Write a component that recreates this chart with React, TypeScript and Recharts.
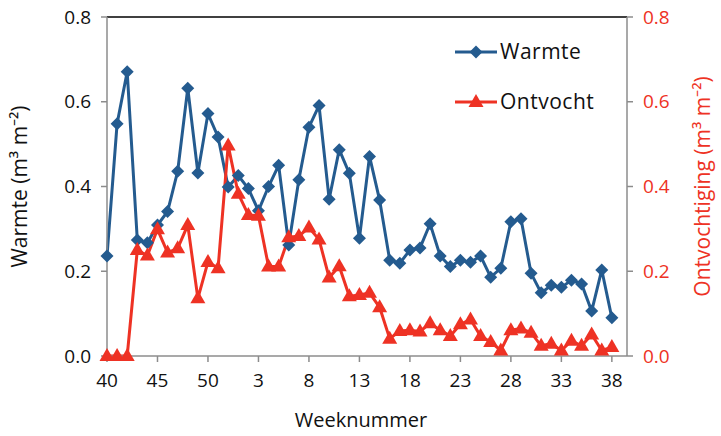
// App.tsx

import React from 'react';
import { LineChart, Line, XAxis, YAxis, ReferenceLine } from 'recharts';

const weeks = [
  40, 41, 42, 43, 44, 45, 46, 47, 48, 49, 50, 51, 52,
  1, 2, 3, 4, 5, 6, 7, 8, 9, 10, 11, 12, 13, 14, 15, 16, 17, 18, 19, 20,
  21, 22, 23, 24, 25, 26, 27, 28, 29, 30, 31, 32, 33, 34, 35, 36, 37, 38,
];

const warmte = [
  0.236, 0.548, 0.671, 0.274, 0.267, 0.309, 0.341, 0.436, 0.632, 0.432, 0.572, 0.517, 0.399,
  0.426, 0.395, 0.343, 0.400, 0.450, 0.262, 0.416, 0.540, 0.591, 0.370, 0.487, 0.431, 0.278,
  0.471, 0.368, 0.226, 0.219, 0.250, 0.255, 0.312, 0.236, 0.211, 0.226, 0.221, 0.236, 0.186,
  0.207, 0.317, 0.324, 0.195, 0.149, 0.167, 0.162, 0.179, 0.170, 0.106, 0.203, 0.090,
];

const ontvocht = [
  0.0, 0.0, 0.0, 0.250, 0.237, 0.299, 0.244, 0.254, 0.309, 0.136, 0.222, 0.207, 0.497,
  0.383, 0.333, 0.331, 0.211, 0.211, 0.280, 0.283, 0.303, 0.275, 0.185, 0.212, 0.141, 0.144,
  0.149, 0.115, 0.041, 0.059, 0.061, 0.058, 0.077, 0.061, 0.047, 0.075, 0.086, 0.047, 0.033,
  0.013, 0.061, 0.065, 0.055, 0.024, 0.029, 0.013, 0.036, 0.024, 0.051, 0.013, 0.021,
];

const xTicks = [0, 5, 10, 15, 20, 25, 30, 35, 40, 45, 50];
const yTicks = [0, 0.2, 0.4, 0.6, 0.8];

const BLUE = '#245b8f';
const RED = '#ee3224';
const FONT = '"Open Sans", sans-serif';

const data = weeks.map((w, i) => ({ i, week: w, warmte: warmte[i], ontvocht: ontvocht[i] }));

const Diamond = ({ cx, cy }: any) => {
  if (cx == null || cy == null) return null;
  const r = 6.5;
  return <path d={`M${cx},${cy - r}L${cx + r},${cy}L${cx},${cy + r}L${cx - r},${cy}Z`} fill={BLUE} />;
};

const Triangle = ({ cx, cy }: any) => {
  if (cx == null || cy == null) return null;
  return <path d={`M${cx},${cy - 8}L${cx + 7.5},${cy + 5}L${cx - 7.5},${cy + 5}Z`} fill={RED} />;
};

const LegendBox = () => (
  <svg width={170} height={80} style={{ position: 'absolute', left: 453, top: 37 }}>
    <line x1={2} y1={15} x2={44} y2={15} stroke={BLUE} strokeWidth={3} />
    <Diamond cx={23} cy={15} />
    <text x={47} y={22} fontSize={21} fontFamily={FONT} fill="#111" letterSpacing={0.5}>Warmte</text>
    <line x1={2} y1={65} x2={44} y2={65} stroke={RED} strokeWidth={3} />
    <Triangle cx={23} cy={65} />
    <text x={47} y={72} fontSize={21} fontFamily={FONT} fill="#111" letterSpacing={0.5}>Ontvocht</text>
  </svg>
);

const axisLine = { stroke: '#8c8c8c', strokeWidth: 1.5 };

const App = () => {
  return (
    <div style={{ position: 'absolute', left: 0, top: 0, width: 721, height: 436, background: '#fff' }}>
      <LineChart width={721} height={436} data={data} margin={{ top: 17, right: 0, left: 0, bottom: 0 }}>
        <XAxis
          dataKey="i"
          type="number"
          domain={[0, 51.5]}
          ticks={xTicks}
          tickFormatter={(v: number) => String(weeks[v])}
          height={80}
          axisLine={axisLine}
          tickLine={axisLine}
          tickSize={6}
          tick={{ fill: '#111', fontSize: 19, fontFamily: FONT, dy: 10 }}
          label={{ value: 'Weeknummer', position: 'insideBottom', offset: 9, fill: '#111', fontSize: 20, fontFamily: FONT, dx: -6 }}
        />
        <YAxis
          yAxisId="left"
          domain={[0, 0.8]}
          ticks={yTicks}
          width={107}
          tickFormatter={(v: number) => v.toFixed(1)}
          axisLine={axisLine}
          tickLine={axisLine}
          tickSize={6}
          tick={{ fill: '#111', fontSize: 19, fontFamily: FONT, dx: -8 }}
          label={{ value: 'Warmte (m³ m⁻²)', angle: -90, position: 'insideLeft', offset: 20, fill: '#111', fontSize: 21, fontFamily: FONT, style: { textAnchor: 'middle' } }}
        />
        <YAxis
          yAxisId="right"
          orientation="right"
          domain={[0, 0.8]}
          ticks={yTicks}
          width={94}
          tickFormatter={(v: number) => v.toFixed(1)}
          axisLine={axisLine}
          tickLine={axisLine}
          tickSize={6}
          tick={{ fill: RED, fontSize: 19, fontFamily: FONT, dx: 8 }}
          label={{ value: 'Ontvochtiging (m³ m⁻²)', angle: -90, position: 'insideRight', offset: 18, fill: RED, fontSize: 21, fontFamily: FONT, style: { textAnchor: 'middle' } }}
        />
        <ReferenceLine yAxisId="left" y={0.8} stroke="#000" strokeWidth={1.5} />
        <Line
          yAxisId="left"
          dataKey="warmte"
          stroke={BLUE}
          strokeWidth={3}
          dot={<Diamond />}
          activeDot={false}
          isAnimationActive={false}
        />
        <Line
          yAxisId="right"
          dataKey="ontvocht"
          stroke={RED}
          strokeWidth={3}
          dot={<Triangle />}
          activeDot={false}
          isAnimationActive={false}
        />
      </LineChart>
      <LegendBox />
    </div>
  );
};

export default App;
